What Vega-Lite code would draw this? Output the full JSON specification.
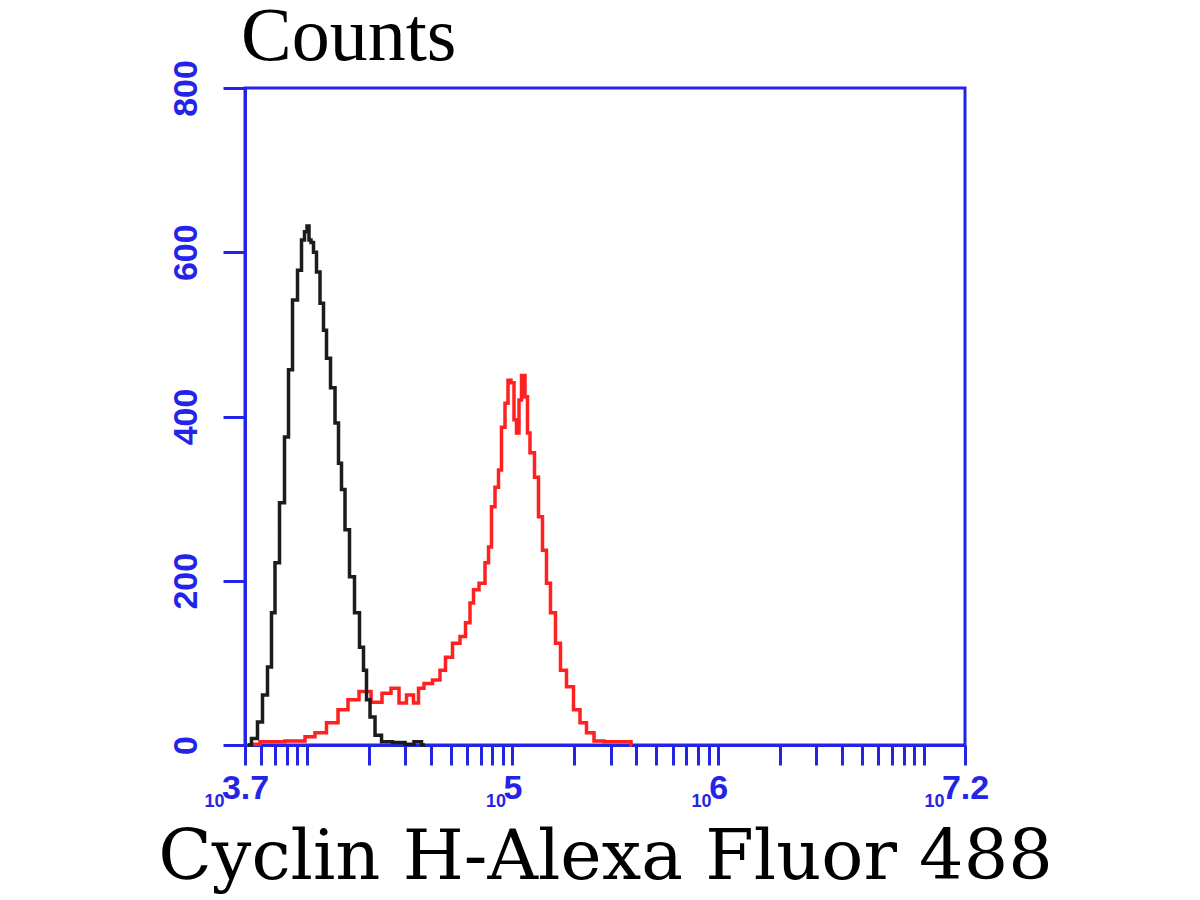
{
  "$schema": "https://vega.github.io/schema/vega-lite/v6.json",
  "autosize": {"type": "none"},
  "padding": {"left": 245, "top": 88, "right": 235, "bottom": 155},
  "width": 720,
  "height": 657,
  "background": "white",
  "config": {
    "view": {"stroke": "#2424e8", "strokeWidth": 3},
    "axis": {"domainColor": "#2424e8", "tickColor": "#2424e8", "labelColor": "#2424e8", "domainWidth": 3, "tickWidth": 3, "grid": false, "labelFont": "Liberation Sans", "labelFontWeight": "bold"}
  },
  "title": {"text": "Counts", "anchor": "start", "frame": "group", "font": "Liberation Serif", "fontSize": 76, "fontWeight": "normal", "color": "black", "offset": 22, "dx": -4, "dy": 38},
  "datasets": {
    "hist": [
      {"sample": "control", "intensity": 5183, "count": 0},
      {"sample": "control", "intensity": 5605, "count": 8},
      {"sample": "control", "intensity": 5927, "count": 28},
      {"sample": "control", "intensity": 6270, "count": 61},
      {"sample": "control", "intensity": 6630, "count": 95},
      {"sample": "control", "intensity": 6857, "count": 161},
      {"sample": "control", "intensity": 7172, "count": 222},
      {"sample": "control", "intensity": 7584, "count": 295},
      {"sample": "control", "intensity": 8021, "count": 375},
      {"sample": "control", "intensity": 8295, "count": 457},
      {"sample": "control", "intensity": 8773, "count": 542},
      {"sample": "control", "intensity": 9278, "count": 578},
      {"sample": "control", "intensity": 9594, "count": 615},
      {"sample": "control", "intensity": 9920, "count": 625},
      {"sample": "control", "intensity": 10146, "count": 632},
      {"sample": "control", "intensity": 10375, "count": 615},
      {"sample": "control", "intensity": 10610, "count": 612},
      {"sample": "control", "intensity": 10972, "count": 600},
      {"sample": "control", "intensity": 11348, "count": 576},
      {"sample": "control", "intensity": 11868, "count": 538},
      {"sample": "control", "intensity": 12273, "count": 505},
      {"sample": "control", "intensity": 12693, "count": 471},
      {"sample": "control", "intensity": 13423, "count": 435},
      {"sample": "control", "intensity": 14036, "count": 392},
      {"sample": "control", "intensity": 14516, "count": 343},
      {"sample": "control", "intensity": 15012, "count": 311},
      {"sample": "control", "intensity": 15697, "count": 262},
      {"sample": "control", "intensity": 16601, "count": 205},
      {"sample": "control", "intensity": 17556, "count": 161},
      {"sample": "control", "intensity": 18570, "count": 119},
      {"sample": "control", "intensity": 19200, "count": 91},
      {"sample": "control", "intensity": 19862, "count": 55},
      {"sample": "control", "intensity": 20773, "count": 34},
      {"sample": "control", "intensity": 22213, "count": 12},
      {"sample": "control", "intensity": 24030, "count": 4},
      {"sample": "control", "intensity": 28410, "count": 3},
      {"sample": "control", "intensity": 31777, "count": 1},
      {"sample": "control", "intensity": 34754, "count": 4},
      {"sample": "control", "intensity": 37584, "count": 0},
      {"sample": "Cyclin H", "intensity": 5300, "count": 1},
      {"sample": "Cyclin H", "intensity": 6630, "count": 4},
      {"sample": "Cyclin H", "intensity": 9278, "count": 5},
      {"sample": "Cyclin H", "intensity": 10375, "count": 10},
      {"sample": "Cyclin H", "intensity": 11603, "count": 15},
      {"sample": "Cyclin H", "intensity": 13423, "count": 27},
      {"sample": "Cyclin H", "intensity": 15012, "count": 43},
      {"sample": "Cyclin H", "intensity": 16788, "count": 55},
      {"sample": "Cyclin H", "intensity": 19200, "count": 65},
      {"sample": "Cyclin H", "intensity": 21969, "count": 52},
      {"sample": "Cyclin H", "intensity": 24566, "count": 63},
      {"sample": "Cyclin H", "intensity": 26869, "count": 69},
      {"sample": "Cyclin H", "intensity": 29384, "count": 51},
      {"sample": "Cyclin H", "intensity": 31777, "count": 61},
      {"sample": "Cyclin H", "intensity": 34365, "count": 51},
      {"sample": "Cyclin H", "intensity": 35540, "count": 69},
      {"sample": "Cyclin H", "intensity": 38871, "count": 75},
      {"sample": "Cyclin H", "intensity": 42982, "count": 79},
      {"sample": "Cyclin H", "intensity": 45966, "count": 91},
      {"sample": "Cyclin H", "intensity": 48613, "count": 107},
      {"sample": "Cyclin H", "intensity": 53775, "count": 124},
      {"sample": "Cyclin H", "intensity": 57510, "count": 132},
      {"sample": "Cyclin H", "intensity": 60814, "count": 149},
      {"sample": "Cyclin H", "intensity": 63605, "count": 173},
      {"sample": "Cyclin H", "intensity": 65776, "count": 189},
      {"sample": "Cyclin H", "intensity": 71940, "count": 197},
      {"sample": "Cyclin H", "intensity": 75234, "count": 222},
      {"sample": "Cyclin H", "intensity": 77803, "count": 241},
      {"sample": "Cyclin H", "intensity": 80460, "count": 290},
      {"sample": "Cyclin H", "intensity": 84140, "count": 314},
      {"sample": "Cyclin H", "intensity": 87007, "count": 335},
      {"sample": "Cyclin H", "intensity": 89983, "count": 387},
      {"sample": "Cyclin H", "intensity": 94096, "count": 416},
      {"sample": "Cyclin H", "intensity": 96250, "count": 444},
      {"sample": "Cyclin H", "intensity": 100645, "count": 441},
      {"sample": "Cyclin H", "intensity": 102920, "count": 396},
      {"sample": "Cyclin H", "intensity": 106440, "count": 380},
      {"sample": "Cyclin H", "intensity": 108850, "count": 420},
      {"sample": "Cyclin H", "intensity": 112570, "count": 450},
      {"sample": "Cyclin H", "intensity": 117700, "count": 424},
      {"sample": "Cyclin H", "intensity": 119030, "count": 380},
      {"sample": "Cyclin H", "intensity": 124480, "count": 356},
      {"sample": "Cyclin H", "intensity": 131640, "count": 326},
      {"sample": "Cyclin H", "intensity": 136150, "count": 278},
      {"sample": "Cyclin H", "intensity": 143960, "count": 237},
      {"sample": "Cyclin H", "intensity": 148880, "count": 197},
      {"sample": "Cyclin H", "intensity": 157450, "count": 161},
      {"sample": "Cyclin H", "intensity": 166490, "count": 124},
      {"sample": "Cyclin H", "intensity": 176130, "count": 91},
      {"sample": "Cyclin H", "intensity": 190500, "count": 71},
      {"sample": "Cyclin H", "intensity": 206000, "count": 43},
      {"sample": "Cyclin H", "intensity": 220300, "count": 27},
      {"sample": "Cyclin H", "intensity": 238300, "count": 15},
      {"sample": "Cyclin H", "intensity": 260600, "count": 5},
      {"sample": "Cyclin H", "intensity": 298100, "count": 4},
      {"sample": "Cyclin H", "intensity": 372800, "count": 4},
      {"sample": "Cyclin H", "intensity": 381300, "count": 0}
    ]
  },
  "data": {"name": "hist"},
  "layer": [
    {
      "transform": [{"filter": "datum.sample == 'Cyclin H'"}],
      "mark": {"type": "line", "interpolate": "step", "strokeWidth": 3.5, "clip": false},
      "encoding": {
        "x": {"field": "intensity", "type": "quantitative",
              "scale": {"type": "log", "domain": [5011.87, 15848932], "nice": false, "zero": false},
              "axis": {"orient": "bottom", "title": null, "values": [5011.87, 100000, 1000000, 15848932],
                       "ticks": false, "domain": false, "labelFlush": false, "labelOverlap": false,
                       "labelExpr": "datum.value < 5100 ? '3.7' : (datum.value > 15000000 ? '7.2' : (datum.value == 100000 ? '5' : '6'))",
                       "labelFontSize": 34, "labelAlign": "center", "labelBaseline": "top", "labelPadding": 26, "labelDx": 4}},
        "y": {"field": "count", "type": "quantitative",
              "scale": {"domain": [0, 800], "nice": false},
              "axis": {"title": null, "values": [0, 200, 400, 600, 800], "tickSize": 22, "labelPadding": 20,
                       "labelAngle": 270, "labelAlign": "center", "labelBaseline": "bottom", "labelFontSize": 34}},
        "color": {"field": "sample", "type": "nominal", "scale": {"domain": ["control", "Cyclin H"], "range": ["#1c1c1c", "#ff2020"]}, "legend": null}
      }
    },
    {
      "transform": [{"filter": "datum.sample == 'control'"}],
      "mark": {"type": "line", "interpolate": "step", "strokeWidth": 3.5, "clip": false},
      "encoding": {
        "x": {"field": "intensity", "type": "quantitative",
              "scale": {"type": "log", "domain": [5011.87, 15848932], "nice": false, "zero": false},
              "axis": {"orient": "bottom", "title": "Cyclin H-Alexa Fluor 488", "titleFont": "DejaVu Serif", "titleFontSize": 70, "titleFontWeight": "normal", "titleColor": "black", "titlePadding": 13,
                       "values": [5011.87, 6000, 7000, 8000, 9000, 10000, 20000, 30000, 40000, 50000, 60000, 70000, 80000, 90000, 100000, 200000, 300000, 400000, 500000, 600000, 700000, 800000, 900000, 1000000, 2000000, 3000000, 4000000, 5000000, 6000000, 7000000, 8000000, 9000000, 10000000, 15848932],
                       "tickSize": 20, "labelFlush": false, "labelOverlap": false,
                       "labelExpr": "(datum.value < 5100 || datum.value > 15000000 || datum.value == 100000 || datum.value == 1000000) ? '10' : ''",
                       "labelOffset": {"condition": {"test": "datum.value < 5100 || datum.value > 15000000", "value": -21}, "value": -7},
                       "labelFontSize": 18, "labelAlign": "right", "labelBaseline": "top", "labelPadding": 27}},
        "y": {"field": "count", "type": "quantitative", "scale": {"domain": [0, 800], "nice": false}},
        "color": {"field": "sample", "type": "nominal", "scale": {"domain": ["control", "Cyclin H"], "range": ["#1c1c1c", "#ff2020"]}, "legend": null}
      }
    }
  ],
  "resolve": {"axis": {"x": "independent"}}
}
